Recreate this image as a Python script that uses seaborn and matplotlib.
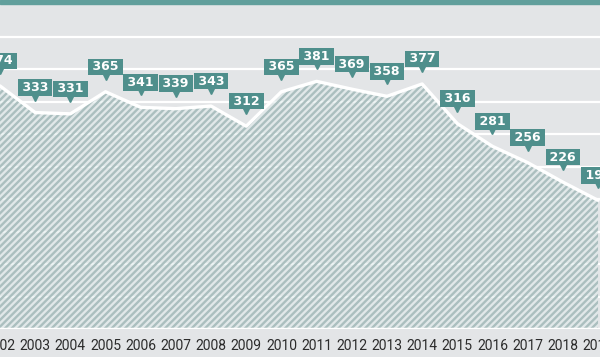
import matplotlib
matplotlib.use('Agg')
import matplotlib.pyplot as plt
import matplotlib.transforms as mtransforms
from matplotlib.patches import Rectangle
import seaborn as sns

# chart data
years = list(range(2002, 2020))
values = [374, 333, 331, 365, 341, 339, 343, 312, 365, 381, 369, 358, 377, 316, 281, 256, 226, 198]
tick_labels = [str(y) for y in years]

bg = '#e3e5e7'
teal = '#4f8f8c'

sns.set_style('white')
plt.rcParams['hatch.color'] = '#abbfbf'
plt.rcParams['hatch.linewidth'] = 1.7

fig = plt.figure(figsize=(6, 3.57), dpi=100, facecolor=bg)
ax = fig.add_axes([0, 28 / 357, 1, 325 / 357])
ax.set_facecolor(bg)

# top teal strip
fig.patches.append(Rectangle((0, 353 / 357), 1, 4 / 357, transform=fig.transFigure,
                             color='#619f9c', zorder=5))

# grid
for g in range(50, 500, 50):
    ax.axhline(g, color='white', lw=1.6, zorder=0)

# hatched area
ax.fill_between(years, values, 0, facecolor=(0.88, 0.92, 0.92, 0.6), edgecolor='#abbfbf',
                hatch='/////', linewidth=0, zorder=1)
sns.lineplot(x=years, y=values, color='white', lw=2.4, ax=ax, zorder=3)
ax.axhline(0, color='white', lw=2.5, zorder=4)

# value labels with pointer
pointer = mtransforms.offset_copy(ax.transData, fig=fig, x=0, y=15, units='dots')
ax.plot(years, values, ls='none', marker='v', ms=5, color=teal, mec=teal, transform=pointer, zorder=5)
for x, v in zip(years, values):
    ax.annotate(f'\u2009{v}\u2009', (x, v), xytext=(0, 25), textcoords='offset pixels',
                ha='center', va='center', color='white', fontsize=9, fontweight='bold',
                bbox=dict(boxstyle='square,pad=0.14', fc=teal, ec='none'), zorder=6)

ax.set_xlim(2002.155, 2019.056)
ax.set_ylim(0, 500)
ax.set_xticks(years)
ax.set_xticklabels(tick_labels, fontsize=10, color='#2b2b2b', family='Roboto')
ax.set_yticks([])
ax.tick_params(axis='x', length=0, pad=7)
for s in ax.spines.values():
    s.set_visible(False)
ax.set_xlabel('')
ax.set_ylabel('')

fig.savefig('out.png', dpi=100, facecolor=bg)
